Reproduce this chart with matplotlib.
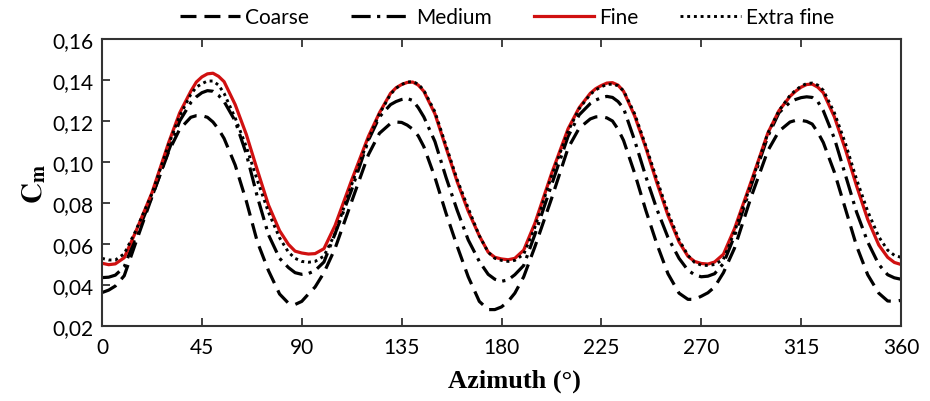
import matplotlib
matplotlib.use("Agg")
import matplotlib.pyplot as plt

azimuth = [0, 3, 6, 10, 15, 22.5, 30, 35, 40, 42.5, 45, 47.5, 50, 52.5, 55, 60, 65, 70, 75, 80, 84, 87,
           90, 93, 96, 100, 105, 112.5, 120, 125, 130, 132.5, 135, 137.5, 140, 142.5, 145, 150, 155, 160, 165, 170, 174, 177,
           180, 183, 186, 190, 195, 202.5, 210, 215, 220, 222.5, 225, 227.5, 230, 232.5, 235, 240, 245, 250, 255, 260, 264, 267,
           270, 273, 276, 280, 285, 292.5, 300, 305, 310, 312.5, 315, 317.5, 320, 322.5, 325, 330, 335, 340, 345, 350, 354, 357,
           360]

coarse = [0.0363, 0.0375, 0.0395, 0.0445, 0.0600, 0.0830, 0.1050, 0.1160, 0.1218, 0.1226, 0.1226, 0.1218, 0.1195, 0.1160, 0.1115, 0.0985, 0.0810, 0.0610, 0.0470, 0.0356, 0.0311, 0.0305,
          0.0320, 0.0356, 0.0390, 0.0460, 0.0578, 0.0808, 0.1035, 0.1140, 0.1188, 0.1195, 0.1193, 0.1180, 0.1160, 0.1127, 0.1075, 0.0925, 0.0750, 0.0590, 0.0440, 0.0320, 0.0280, 0.0280,
          0.0293, 0.0320, 0.0360, 0.0440, 0.0585, 0.0820, 0.1068, 0.1165, 0.1210, 0.1220, 0.1222, 0.1215, 0.1200, 0.1160, 0.1105, 0.0945, 0.0765, 0.0600, 0.0455, 0.0360, 0.0330, 0.0330,
          0.0345, 0.0362, 0.0390, 0.0460, 0.0580, 0.0830, 0.1055, 0.1150, 0.1195, 0.1203, 0.1203, 0.1198, 0.1185, 0.1145, 0.1095, 0.0950, 0.0770, 0.0590, 0.0450, 0.0360, 0.0322, 0.0320,
          0.0325]

medium = [0.0436, 0.0438, 0.0448, 0.0488, 0.0630, 0.0830, 0.1055, 0.1200, 0.1290, 0.1318, 0.1338, 0.1348, 0.1345, 0.1325, 0.1295, 0.1200, 0.1040, 0.0830, 0.0645, 0.0530, 0.0485, 0.0460,
          0.0452, 0.0456, 0.0470, 0.0512, 0.0650, 0.0865, 0.1105, 0.1220, 0.1280, 0.1295, 0.1305, 0.1310, 0.1300, 0.1265, 0.1220, 0.1100, 0.0925, 0.0765, 0.0620, 0.0515, 0.0452, 0.0428,
          0.0418, 0.0425, 0.0450, 0.0495, 0.0645, 0.0887, 0.1125, 0.1230, 0.1285, 0.1302, 0.1314, 0.1320, 0.1315, 0.1295, 0.1262, 0.1105, 0.0930, 0.0770, 0.0632, 0.0530, 0.0472, 0.0450,
          0.0440, 0.0443, 0.0455, 0.0505, 0.0640, 0.0885, 0.1125, 0.1240, 0.1292, 0.1305, 0.1314, 0.1318, 0.1315, 0.1295, 0.1250, 0.1115, 0.0935, 0.0755, 0.0610, 0.0500, 0.0450, 0.0435,
          0.0428]

fine = [0.0506, 0.0499, 0.0503, 0.0533, 0.0655, 0.0850, 0.1094, 0.1240, 0.1345, 0.1390, 0.1415, 0.1430, 0.1433, 0.1418, 0.1392, 0.1280, 0.1135, 0.0960, 0.0790, 0.0665, 0.0598, 0.0565,
        0.0556, 0.0551, 0.0553, 0.0577, 0.0690, 0.0912, 0.1124, 0.1240, 0.1335, 0.1362, 0.1378, 0.1388, 0.1390, 0.1375, 0.1345, 0.1235, 0.1070, 0.0905, 0.0760, 0.0640, 0.0560, 0.0535,
        0.0527, 0.0523, 0.0530, 0.0570, 0.0700, 0.0942, 0.1162, 0.1265, 0.1335, 0.1358, 0.1373, 0.1385, 0.1387, 0.1375, 0.1345, 0.1225, 0.1070, 0.0899, 0.0740, 0.0610, 0.0540, 0.0515,
        0.0505, 0.0502, 0.0512, 0.0550, 0.0675, 0.0905, 0.1141, 0.1250, 0.1320, 0.1345, 0.1365, 0.1378, 0.1380, 0.1365, 0.1338, 0.1220, 0.1060, 0.0883, 0.0720, 0.0595, 0.0535, 0.0510,
        0.0500]

extra_fine = [0.0530, 0.0522, 0.0522, 0.0552, 0.0660, 0.0845, 0.1085, 0.1225, 0.1330, 0.1365, 0.1382, 0.1395, 0.1395, 0.1375, 0.1335, 0.1215, 0.1075, 0.0910, 0.0755, 0.0630, 0.0560, 0.0530,
              0.0515, 0.0511, 0.0515, 0.0541, 0.0650, 0.0890, 0.1110, 0.1235, 0.1330, 0.1360, 0.1378, 0.1390, 0.1392, 0.1380, 0.1350, 0.1245, 0.1080, 0.0915, 0.0775, 0.0640, 0.0560, 0.0530,
              0.0520, 0.0515, 0.0520, 0.0550, 0.0680, 0.0930, 0.1150, 0.1260, 0.1330, 0.1352, 0.1367, 0.1378, 0.1380, 0.1372, 0.1348, 0.1235, 0.1080, 0.0915, 0.0755, 0.0620, 0.0545, 0.0510,
              0.0497, 0.0495, 0.0500, 0.0525, 0.0660, 0.0895, 0.1140, 0.1250, 0.1325, 0.1350, 0.1370, 0.1383, 0.1385, 0.1375, 0.1350, 0.1240, 0.1090, 0.0915, 0.0760, 0.0635, 0.0570, 0.0545,
              0.0535]

x_ticks = [0, 45, 90, 135, 180, 225, 270, 315, 360]
y_ticks = [0.02, 0.04, 0.06, 0.08, 0.10, 0.12, 0.14, 0.16]
y_tick_labels = ["0,02", "0,04", "0,06", "0,08", "0,10", "0,12", "0,14", "0,16"]

plt.rcParams["font.family"] = ["Lato", "DejaVu Sans"]
plt.rcParams["mathtext.fontset"] = "stix"

fig = plt.figure(figsize=(9.3, 4.02), dpi=100)
ax = fig.add_axes([0.1097, 0.1866, 0.8591, 0.7139])

lw = 2.3
ax.plot(azimuth, coarse, color="black", lw=lw, linestyle=(0, (5, 2.5)), label="Coarse")
ax.plot(azimuth, medium, color="black", lw=lw, linestyle=(0, (6, 2, 1, 2)), label="Medium")
ax.plot(azimuth, fine, color="#d01010", lw=lw, label="Fine")
ax.plot(azimuth, extra_fine, color="black", lw=2.1, linestyle=(0, (1, 1.3)), label="Extra fine")

ax.set_xlim(0, 360)
ax.set_ylim(0.02, 0.16)
ax.set_xticks(x_ticks)
ax.set_yticks(y_ticks)
ax.set_yticklabels(y_tick_labels)

for s in ax.spines.values():
    s.set_color("#333333")
    s.set_linewidth(1.5)
ax.tick_params(axis="x", direction="in", top=True, bottom=True, length=6, width=1.3,
               color="#333333", labelsize=15, pad=8)
ax.tick_params(axis="y", direction="in", left=True, right=False, length=6, width=1.3,
               color="#333333", labelsize=15, pad=6)

ax.set_xlabel("Azimuth (°)", family="Liberation Serif", fontweight="bold", fontsize=19)
ax.xaxis.set_label_coords(0.516, -0.15)
ax.set_ylabel(r"$\mathbf{C}_{\mathbf{m}}$", fontsize=21, labelpad=3)

fig.legend(loc="center", bbox_to_anchor=(0.545, 0.955), ncol=4, frameon=False,
           fontsize=15, handlelength=2.9, handletextpad=0.25, columnspacing=2.0)

plt.savefig("out.png", dpi=100)
